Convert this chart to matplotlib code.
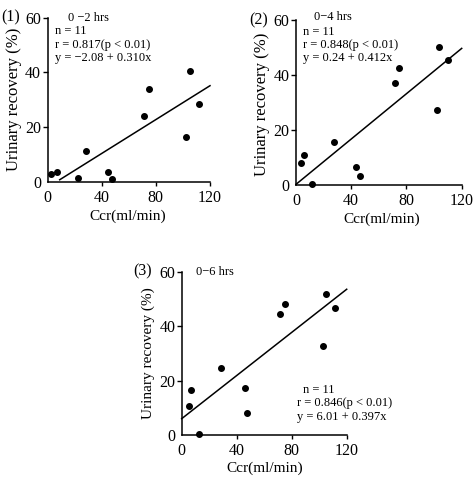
import matplotlib
matplotlib.use("Agg")
import matplotlib.pyplot as plt
import numpy as np

plt.rcParams['font.family'] = ['Liberation Serif', 'DejaVu Serif']

# creatinine clearance (ml/min) and urinary recovery (%) per collection period
ccr_1 = [2.6, 6.8, 22.3, 28.7, 44.7, 47.6, 71.5, 74.7, 102.5, 105.2, 112.0]
rec_1 = [2.8, 3.4, 1.2, 11.2, 3.7, 1.1, 23.9, 33.8, 16.5, 40.4, 28.6]

ccr_2 = [3.6, 6.0, 11.4, 27.6, 43.4, 46.3, 71.7, 74.4, 102.0, 103.7, 109.8]
rec_2 = [8.1, 11.0, 0.5, 15.5, 6.5, 3.4, 37.0, 42.5, 27.4, 50.1, 45.5]

ccr_3 = [6.5, 5.5, 12.8, 28.8, 45.8, 47.7, 71.3, 74.9, 102.5, 105.2, 111.7]
rec_3 = [16.7, 10.7, 0.4, 24.5, 17.2, 8.2, 44.5, 48.1, 32.7, 51.9, 46.8]

# regression intercept, slope, r
fit_1 = (-2.08, 0.310, 0.817)
fit_2 = (0.24, 0.412, 0.848)
fit_3 = (6.01, 0.397, 0.846)

periods = ["0 \u22122 hrs", "0\u22124 hrs", "0\u22126 hrs"]
tags = ["(1)", "(2)", "(3)"]

W, H = 473, 478
fig = plt.figure(figsize=(W / 100, H / 100), dpi=100)


def px_axes(left, right, top, bottom):
    return fig.add_axes([left / W, 1 - bottom / H, (right - left) / W, (bottom - top) / H])


ax1 = px_axes(47.5, 210, 17.7, 181.7)
ax2 = px_axes(296, 461.7, 20, 185)
ax3 = px_axes(181.7, 346.7, 272, 435)
axes = [ax1, ax2, ax3]

data = [(ccr_1, rec_1, fit_1, 9), (ccr_2, rec_2, fit_2, 0), (ccr_3, rec_3, fit_3, 0)]

for ax, (xs, ys, (a, b, r), x0) in zip(axes, data):
    ax.scatter(xs, ys, s=16, color='black', zorder=3, clip_on=False)
    xl = np.array([x0, 120])
    ax.plot(xl, a + b * xl, color='black', lw=1.1, clip_on=False)
    ax.set_xlim(0, 120)
    ax.set_ylim(0, 60)
    ax.set_xticks([0, 40, 80, 120])
    ax.set_yticks([0, 20, 40, 60])
    for s in ['top', 'right']:
        ax.spines[s].set_visible(False)
    for s in ['left', 'bottom']:
        ax.spines[s].set_linewidth(1.1)
    ax.tick_params(axis='x', direction='out', length=3, width=1.0, pad=3, labelsize=11.5)
    ax.tick_params(axis='y', direction='out', length=3.6, width=1.0, pad=1, labelsize=11.5)
    # no tick marks at the origin
    ax.xaxis.get_major_ticks()[0].tick1line.set_visible(False)
    ax.yaxis.get_major_ticks()[0].tick1line.set_visible(False)

# axis titles
ax1.text(-0.209, 0.5, "Urinary recovery (%)", transform=ax1.transAxes, rotation=90,
         ha='center', va='center', fontsize=12)
ax2.text(-0.204, 0.49, "Urinary recovery (%)", transform=ax2.transAxes, rotation=90,
         ha='center', va='center', fontsize=12)
ax3.text(-0.201, 0.5, "Urinary recovery (%)", transform=ax3.transAxes, rotation=90,
         ha='center', va='center', fontsize=11)
ax1.text(0.495, -0.21, "Ccr(ml/min)", transform=ax1.transAxes, ha='center', va='center', fontsize=11)
ax2.text(0.52, -0.205, "Ccr(ml/min)", transform=ax2.transAxes, ha='center', va='center', fontsize=11)
ax3.text(0.505, -0.205, "Ccr(ml/min)", transform=ax3.transAxes, ha='center', va='center', fontsize=11)

# panel numbers
fig.text(10.5 / W, 1 - 17 / H, tags[0], ha='center', va='center', fontsize=11.5)
fig.text(259 / W, 1 - 20 / H, tags[1], ha='center', va='center', fontsize=11.5)
fig.text(143 / W, 1 - 271 / H, tags[2], ha='center', va='center', fontsize=11.5)


def stats(fit):
    a, b, r = fit
    sign = "\u2212" if a < 0 else ""
    return (f"r = {r:.3f}(p < 0.01)",
            f"y = {sign}{abs(a):.2f} + {b:.3f}x")


fs = 9
# panel 1
ax1.text(15.4, 60, periods[0], ha='left', va='center', fontsize=fs)
ax1.text(5.5, 55, "n = 11", ha='left', va='center', fontsize=fs)
ax1.text(5.5, 50, stats(fit_1)[0], ha='left', va='center', fontsize=fs)
ax1.text(5.5, 45.2, stats(fit_1)[1], ha='left', va='center', fontsize=fs)
# panel 2
ax2.text(13.3, 61.2, periods[1], ha='left', va='center', fontsize=fs)
ax2.text(4.8, 55.8, "n = 11", ha='left', va='center', fontsize=fs)
ax2.text(4.8, 51.0, stats(fit_2)[0], ha='left', va='center', fontsize=fs)
ax2.text(4.8, 46.0, stats(fit_2)[1], ha='left', va='center', fontsize=fs)
# panel 3
ax3.text(10.4, 60, periods[2], ha='left', va='center', fontsize=fs)
ax3.text(88.2, 16.4, "n = 11", ha='left', va='center', fontsize=fs)
ax3.text(83.6, 11.6, stats(fit_3)[0], ha='left', va='center', fontsize=fs)
ax3.text(83.6, 6.5, stats(fit_3)[1], ha='left', va='center', fontsize=fs)

fig.savefig("out.png", dpi=100, facecolor='white')
